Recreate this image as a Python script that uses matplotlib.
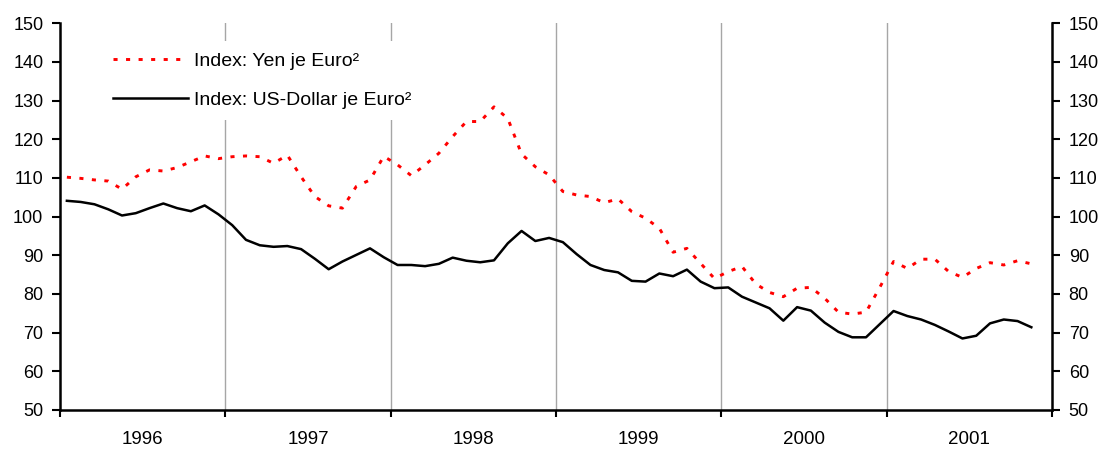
import numpy as np
import matplotlib
matplotlib.use("Agg")
import matplotlib.pyplot as plt
from matplotlib.ticker import FixedLocator, NullFormatter, FixedFormatter

plt.rcParams['font.family'] = ['Liberation Sans', 'DejaVu Sans']

years = ['1996', '1997', '1998', '1999', '2000', '2001']

# monthly index values, Jan 1996 .. Nov 2001
yen = [110.2, 109.9, 109.5, 109.2, 107.1, 110.3, 112.1, 111.8, 112.7, 114.2, 115.7, 115.0,
       115.5, 115.7, 115.5, 113.8, 115.9, 110.3, 105.2, 102.8, 102.2, 107.8, 109.5, 115.6,
       113.4, 110.6, 113.4, 116.4, 120.7, 124.6, 124.6, 128.4, 125.4, 116.2, 112.9, 110.8,
       106.5, 105.6, 105.2, 103.6, 104.6, 101.3, 99.6, 97.0, 90.8, 91.8, 87.9, 84.0,
       85.8, 87.1, 82.6, 80.4, 79.3, 81.5, 81.7, 78.9, 75.3, 74.8, 75.3, 81.7,
       88.4, 86.6, 89.0, 89.0, 85.8, 84.3, 86.6, 88.1, 87.5, 88.6, 87.8]
usd = [104.1, 103.8, 103.2, 101.9, 100.3, 100.9, 102.2, 103.4, 102.2, 101.4, 102.9, 100.6,
       97.8, 94.0, 92.6, 92.2, 92.4, 91.6, 89.1, 86.4, 88.4, 90.1, 91.8, 89.5,
       87.5, 87.5, 87.2, 87.8, 89.4, 88.6, 88.2, 88.7, 93.1, 96.3, 93.7, 94.5,
       93.4, 90.3, 87.5, 86.2, 85.6, 83.4, 83.2, 85.3, 84.6, 86.3, 83.2, 81.5,
       81.7, 79.3, 77.8, 76.3, 73.1, 76.6, 75.7, 72.6, 70.2, 68.8, 68.8, 72.2,
       75.6, 74.3, 73.4, 72.0, 70.3, 68.5, 69.2, 72.4, 73.4, 73.0, 71.4]
yticks = [50, 60, 70, 80, 90, 100, 110, 120, 130, 140, 150]

n_months = 12 * len(years)
x_yen = np.arange(len(yen))
x_usd = np.arange(len(usd))

fig = plt.figure(figsize=(11.03, 4.49), dpi=100)
ax = fig.add_axes([60 / 1103, 39 / 449, (1052 - 60) / 1103, (410 - 23.3) / 449])

ax.set_xlim(-0.5, n_months - 0.5)
ax.set_ylim(50, 150)

bounds = [-0.5 + 12 * k for k in range(len(years) + 1)]
for b in bounds[1:-1]:
    ax.axvline(b, color='#a6a6a6', lw=1.0, zorder=1)

l1, = ax.plot(x_yen, yen, color='#ff0000', lw=2.1, dashes=(1.4, 2.9), zorder=3,
              label='Index: Yen je Euro²')
l2, = ax.plot(x_usd, usd, color='black', lw=1.8, zorder=3,
              label='Index: US-Dollar je Euro²')

ax.spines['top'].set_visible(False)
for s in ['left', 'right', 'bottom']:
    ax.spines[s].set_linewidth(1.8)

ax.set_yticks(yticks)
ax.yaxis.set_ticks_position('both')
ax.tick_params(axis='y', direction='out', length=5.5, width=1.5, labelsize=13,
               labelleft=True, labelright=True, pad=6.5)

ax.xaxis.set_major_locator(FixedLocator(bounds))
ax.xaxis.set_major_formatter(NullFormatter())
ax.xaxis.set_minor_locator(FixedLocator([5.5 + 12 * k for k in range(len(years))]))
ax.xaxis.set_minor_formatter(FixedFormatter(years))
ax.tick_params(axis='x', which='major', direction='out', length=5, width=1.5)
ax.tick_params(axis='x', which='minor', length=0, labelsize=13.5, pad=15)

leg = ax.legend(handles=[l1, l2], loc='upper left', bbox_to_anchor=(0.0417, 0.955),
                fontsize=14, frameon=True, facecolor='white', edgecolor='none',
                framealpha=1.0, fancybox=False, handlelength=3.85, handletextpad=0.3,
                labelspacing=1.08, borderpad=0.6, borderaxespad=0)
leg.set_zorder(5)

fig.savefig('out.png', dpi=100)
